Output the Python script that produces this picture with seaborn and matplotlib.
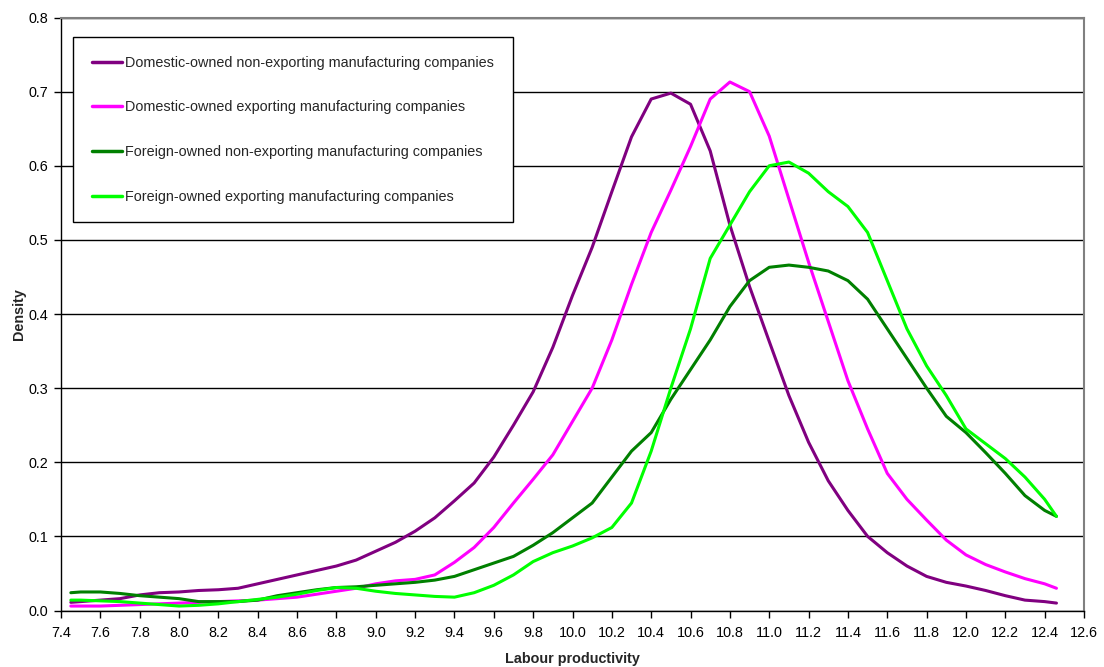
import numpy as np
import pandas as pd
import matplotlib
matplotlib.use("Agg")
import matplotlib.pyplot as plt
import seaborn as sns

# ---- data ----
x_vals = [7.45, 7.5, 7.6, 7.7, 7.8, 7.9, 8.0, 8.1, 8.2, 8.3, 8.4, 8.5, 8.6, 8.7, 8.8, 8.9,
          9.0, 9.1, 9.2, 9.3, 9.4, 9.5, 9.6, 9.7, 9.8, 9.9, 10.0, 10.1, 10.2, 10.3, 10.4,
          10.5, 10.6, 10.7, 10.8, 10.9, 11.0, 11.1, 11.2, 11.3, 11.4, 11.5, 11.6, 11.7,
          11.8, 11.9, 12.0, 12.1, 12.2, 12.3, 12.4, 12.46]

dom_nonexp = [0.011, 0.012, 0.014, 0.016, 0.021, 0.024, 0.025, 0.027, 0.028, 0.030, 0.036,
              0.042, 0.048, 0.054, 0.060, 0.068, 0.080, 0.092, 0.107, 0.125, 0.148, 0.172,
              0.207, 0.250, 0.295, 0.355, 0.425, 0.490, 0.565, 0.639, 0.690, 0.698, 0.683,
              0.620, 0.520, 0.437, 0.363, 0.290, 0.227, 0.175, 0.135, 0.100, 0.078, 0.060,
              0.046, 0.038, 0.033, 0.027, 0.020, 0.014, 0.012, 0.010]

dom_exp = [0.006, 0.006, 0.006, 0.007, 0.008, 0.009, 0.010, 0.011, 0.012, 0.013, 0.014,
           0.016, 0.018, 0.022, 0.026, 0.030, 0.036, 0.040, 0.042, 0.048, 0.065, 0.085,
           0.112, 0.145, 0.177, 0.210, 0.255, 0.300, 0.365, 0.440, 0.510, 0.567, 0.626,
           0.690, 0.713, 0.700, 0.640, 0.555, 0.470, 0.390, 0.310, 0.245, 0.185, 0.150,
           0.122, 0.095, 0.075, 0.062, 0.052, 0.043, 0.036, 0.030]

for_nonexp = [0.024, 0.025, 0.025, 0.023, 0.020, 0.018, 0.016, 0.012, 0.012, 0.012, 0.014,
              0.020, 0.024, 0.028, 0.031, 0.032, 0.034, 0.036, 0.038, 0.041, 0.046, 0.055,
              0.064, 0.073, 0.088, 0.105, 0.125, 0.145, 0.180, 0.215, 0.240, 0.285, 0.325,
              0.365, 0.410, 0.445, 0.463, 0.466, 0.463, 0.458, 0.445, 0.420, 0.380, 0.340,
              0.300, 0.262, 0.240, 0.213, 0.185, 0.155, 0.135, 0.127]

for_exp = [0.014, 0.014, 0.013, 0.012, 0.010, 0.008, 0.006, 0.007, 0.009, 0.012, 0.015,
           0.018, 0.022, 0.027, 0.031, 0.030, 0.026, 0.023, 0.021, 0.019, 0.018, 0.024,
           0.034, 0.048, 0.066, 0.078, 0.087, 0.098, 0.112, 0.145, 0.215, 0.300, 0.380,
           0.475, 0.520, 0.565, 0.600, 0.605, 0.590, 0.565, 0.545, 0.510, 0.445, 0.380,
           0.330, 0.290, 0.245, 0.225, 0.205, 0.180, 0.150, 0.127]

series_names = ["Domestic-owned non-exporting manufacturing companies",
                "Domestic-owned exporting manufacturing companies",
                "Foreign-owned non-exporting manufacturing companies",
                "Foreign-owned exporting manufacturing companies"]
series_values = [dom_nonexp, dom_exp, for_nonexp, for_exp]
series_colors = ["#800080", "#FF00FF", "#008000", "#00FF00"]

y_ticks = [0.0, 0.1, 0.2, 0.3, 0.4, 0.5, 0.6, 0.7, 0.8]
x_ticks = [7.4, 7.6, 7.8, 8.0, 8.2, 8.4, 8.6, 8.8, 9.0, 9.2, 9.4, 9.6, 9.8, 10.0, 10.2,
           10.4, 10.6, 10.8, 11.0, 11.2, 11.4, 11.6, 11.8, 12.0, 12.2, 12.4, 12.6]

# ---- build long-form table ----
frames = []
for name, vals in zip(series_names, series_values):
    frames.append(pd.DataFrame({"Labour productivity": x_vals, "Density": vals, "Group": name}))
df = pd.concat(frames, ignore_index=True)

sns.set_theme(style="white")
plt.rcParams["font.family"] = ["Liberation Sans", "DejaVu Sans"]

FS = 10.4

fig = plt.figure(figsize=(11.04, 6.67), dpi=100)
ax = fig.add_axes([61 / 1104, 1 - 610.5 / 667, (1084 - 61) / 1104, (610.5 - 17.5) / 667])

sns.lineplot(data=df, x="Labour productivity", y="Density", hue="Group",
             hue_order=series_names, palette=dict(zip(series_names, series_colors)),
             linewidth=2.2, ax=ax, sort=True, estimator=None)

ax.set_xlim(7.4, 12.6)
ax.set_ylim(0.0, 0.8)
ax.set_xticks(x_ticks)
ax.set_xticklabels([f"{t:.1f}" for t in x_ticks])
ax.set_yticks(y_ticks)
ax.set_yticklabels([f"{t:.1f}" for t in y_ticks])
ax.tick_params(axis="both", direction="out", length=5, width=1, color="black",
               labelsize=FS, labelcolor="black", bottom=True, left=True)
ax.tick_params(axis="x", pad=6)
ax.tick_params(axis="y", pad=4)

ax.yaxis.grid(True, color="black", linewidth=1)
ax.xaxis.grid(False)
ax.set_axisbelow(True)

for s in ["left", "bottom"]:
    ax.spines[s].set_color("black")
    ax.spines[s].set_linewidth(1)
for s in ["top", "right"]:
    ax.spines[s].set_color("#808080")
    ax.spines[s].set_linewidth(1.5)

ax.set_xlabel("Labour productivity", fontsize=FS, fontweight="bold", labelpad=9)
ax.set_ylabel("Density", fontsize=FS, fontweight="bold", labelpad=2)

leg = ax.legend(loc="upper left", bbox_to_anchor=(0.0117, 0.967), frameon=True,
                fancybox=False, framealpha=1, edgecolor="black", fontsize=FS,
                handlelength=2.1, handletextpad=0.2, labelspacing=2.12,
                borderpad=1.3, borderaxespad=0)
leg.get_frame().set_linewidth(1)
for line in leg.get_lines():
    line.set_linewidth(2.5)

fig.savefig("out.png", dpi=100)
